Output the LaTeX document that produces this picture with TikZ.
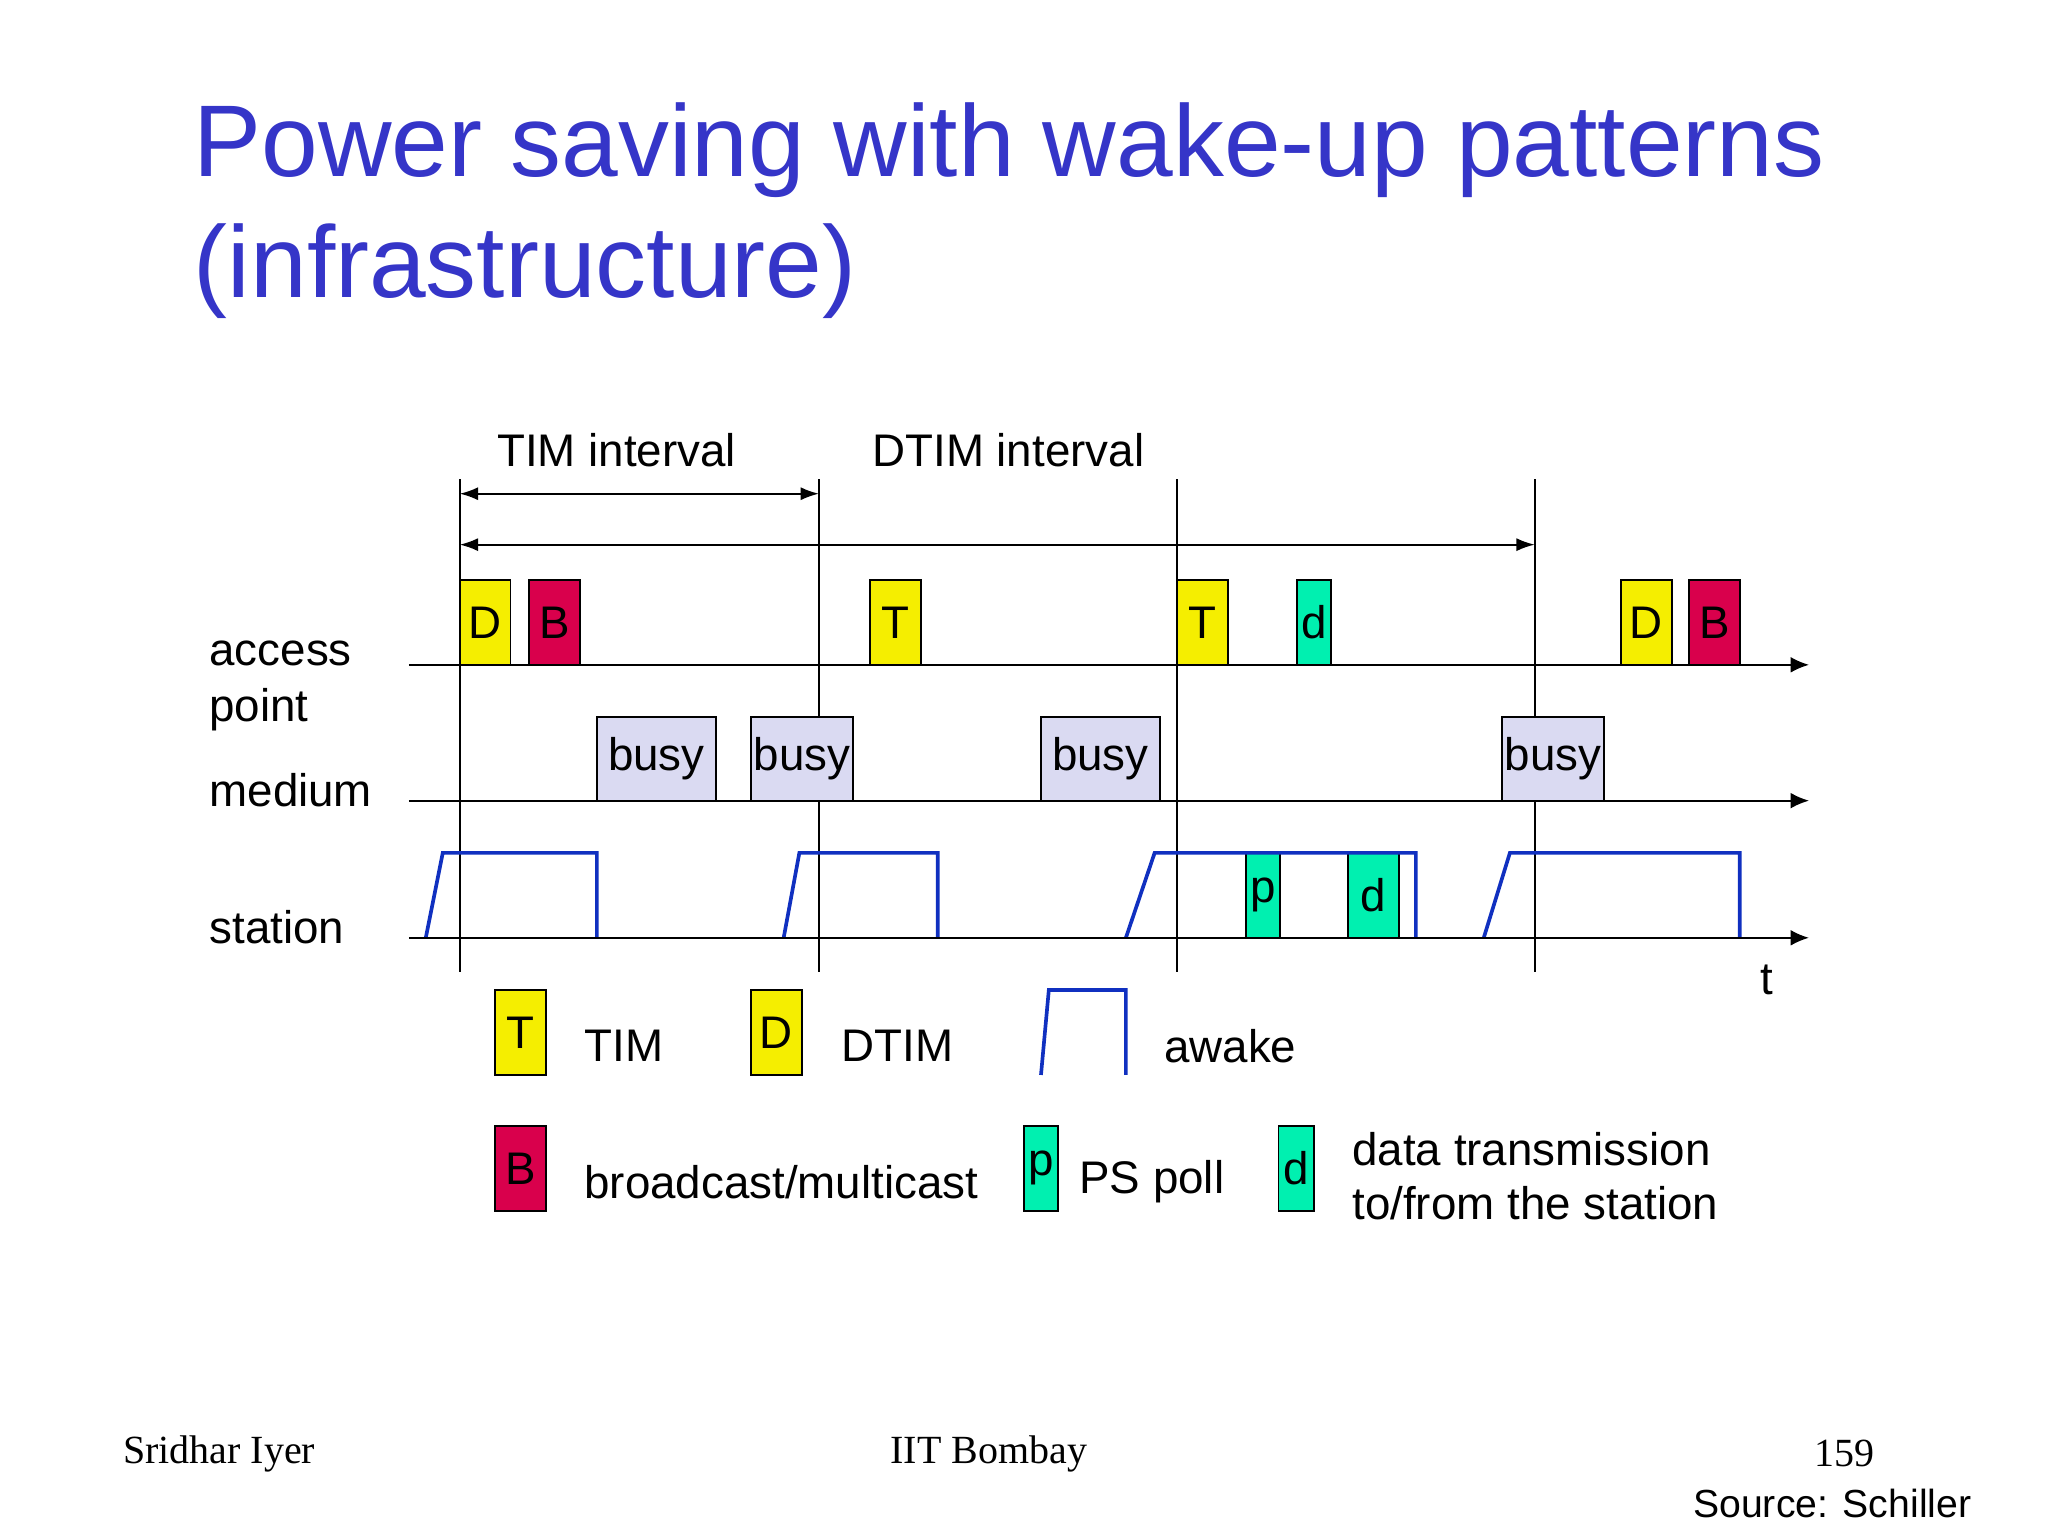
\documentclass[tikz,border=0pt]{standalone}
\usepackage{fontspec}
\setmainfont{Liberation Sans}
\newfontfamily\serifft{Liberation Serif}
\usetikzlibrary{arrows.meta}
\definecolor{ttl}{HTML}{3535C8}
\definecolor{yel}{HTML}{F5EE00}
\definecolor{redb}{HTML}{D9004C}
\definecolor{grn}{HTML}{00F0B0}
\definecolor{bsy}{HTML}{DADAF2}
\definecolor{awk}{HTML}{1030C0}
\tikzset{
 lbl/.style={font=\fontsize{17.5pt}{21pt}\selectfont,inner sep=0pt},
 axis/.style={line width=0.7pt,-{Latex[length=7pt,width=6pt]}},
 vline/.style={line width=0.7pt},
 dim/.style={line width=0.7pt,{Latex[length=7pt,width=5pt]}-{Latex[length=7pt,width=5pt]}},
 wave/.style={draw=awk,line width=1.4pt}
}
\newcommand{\bx}[6]{\filldraw[fill=#5,draw=black,line width=0.6pt] (#1,#2) rectangle (#3,#4);
 \node[lbl] at ({(#1+#3)/2},{(#2+#4)/2}) {#6};}
\begin{document}
\begin{tikzpicture}[x=0.5pt,y=-0.5pt]
\useasboundingbox (0,0) rectangle (1568,1176);
\fill[white] (0,0) rectangle (1568,1176);
\node[anchor=base west,inner sep=0pt,text=ttl,font=\fontsize{39pt}{46pt}\selectfont] (t1) at (148,135) {Power saving with wake-up patterns};
\node[anchor=base west,inner sep=0pt,text=ttl,font=\fontsize{39pt}{46pt}\selectfont] (t2) at (148,228) {(infrastructure)};
% labels
\node[lbl] (ti) at (472,345) {TIM interval};
\node[lbl] (di) at (772,345) {DTIM interval};
\node[lbl,anchor=west] (ap1) at (160,500) {access};
\node[lbl,anchor=west] (ap2) at (160,543) {point};
\node[lbl,anchor=west] (md) at (160,605) {medium};
\node[lbl,anchor=west] (st) at (160,710) {station};
\node[lbl] (tt) at (1353,750) {t};
% verticals
\foreach \x in {352,627,901,1175} \draw[vline] (\x,367) -- (\x,744);
\draw[dim] (352,378) -- (627,378);
\draw[dim] (352,417) -- (1175,417);
% busy
\bx{457}{549}{548}{613}{bsy}{busy}
\bx{575}{549}{653}{613}{bsy}{busy}
\bx{797}{549}{888}{613}{bsy}{busy}
\bx{1150}{549}{1228}{613}{bsy}{busy}
% AP boxes
\bx{352}{444}{391}{509}{yel}{D}
\bx{405}{444}{444}{509}{redb}{B}
\bx{666}{444}{705}{509}{yel}{T}
\bx{901}{444}{940}{509}{yel}{T}
\bx{993}{444}{1019}{509}{grn}{d}
\bx{1241}{444}{1280}{509}{yel}{D}
\bx{1293}{444}{1332}{509}{redb}{B}
% station
\bx{954}{653}{980}{718}{grn}{p}
\bx{1032}{653}{1071}{718}{grn}{d}
\draw[wave] (326,718) -- (339,653) -- (457,653) -- (457,718);
\draw[wave] (600,718) -- (612,653) -- (718,653) -- (718,718);
\draw[wave] (862,718) -- (884,653) -- (1084,653) -- (1084,718);
\draw[wave] (1136,718) -- (1156,653) -- (1332,653) -- (1332,718);
% axes
\draw[axis] (313,509) -- (1385,509);
\draw[axis] (313,613) -- (1385,613);
\draw[axis] (313,718) -- (1385,718);
% legend
\bx{379}{758}{418}{823}{yel}{T}
\node[lbl,anchor=west] (lt) at (447,801) {TIM};
\bx{575}{758}{614}{823}{yel}{D}
\node[lbl,anchor=west] (ld) at (644,801) {DTIM};
\draw[wave] (797,823) -- (803,758) -- (862,758) -- (862,823);
\node[lbl,anchor=west] (la) at (891,801) {awake};
\bx{379}{862}{418}{927}{redb}{B}
\node[lbl,anchor=west] (lb) at (447,905) {broadcast/multicast};
\bx{784}{862}{810}{927}{grn}{p}
\node[lbl,anchor=west] (lp) at (826,905) {PS poll};
\bx{979}{862}{1006}{927}{grn}{d}
\node[lbl,anchor=west] (ld1) at (1035,880) {data transmission};
\node[lbl,anchor=west] (ld2) at (1035,921) {to/from the station};
% footer
\node[anchor=west,inner sep=0pt,font=\serifft\fontsize{15.3pt}{17pt}\selectfont] (f1) at (94,1113) {Sridhar Iyer};
\node[inner sep=0pt,font=\serifft\fontsize{15.3pt}{17pt}\selectfont] (f2) at (757,1113) {IIT Bombay};
\node[inner sep=0pt,font=\serifft\fontsize{15.3pt}{17pt}\selectfont] (f3) at (1412,1113) {159};
\node[anchor=west,inner sep=0pt,font=\fontsize{15pt}{17pt}\selectfont] (f4) at (1296,1151) {Source: Schiller};
\end{tikzpicture}
\end{document}
